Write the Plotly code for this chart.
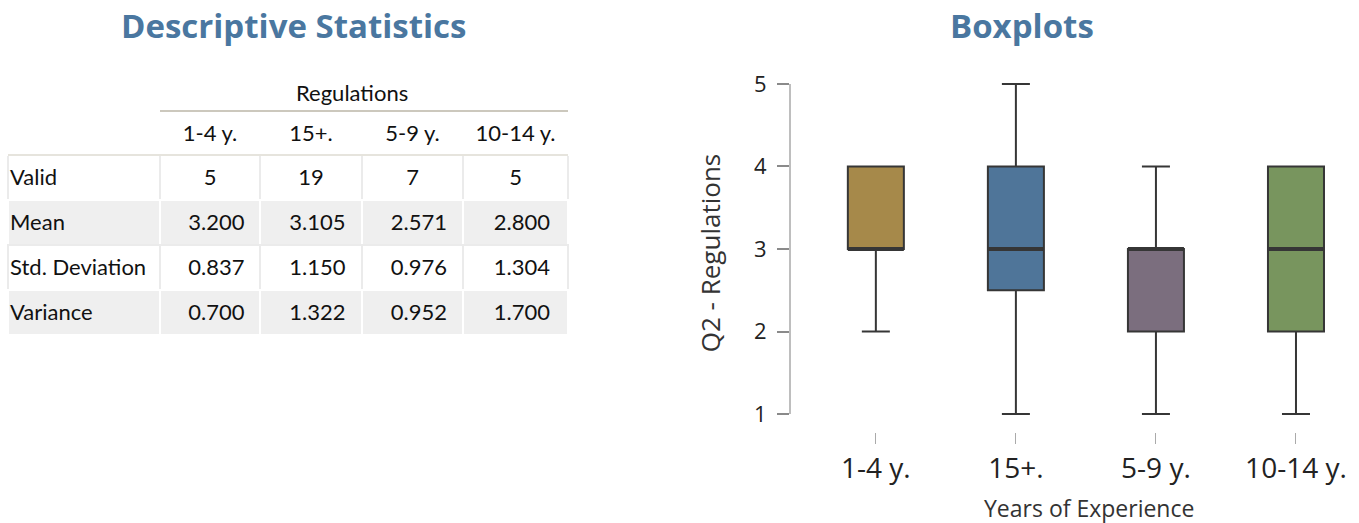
import plotly.graph_objects as go

# ---- data -------------------------------------------------------------
categories = ["1-4 y.", "15+.", "5-9 y.", "10-14 y."]
stat_labels = ["Valid", "Mean", "Std. Deviation", "Variance"]
valid_n = [5, 19, 7, 5]
means = [3.200, 3.105, 2.571, 2.800]
std_devs = [0.837, 1.150, 0.976, 1.304]
variances = [0.700, 1.322, 0.952, 1.700]

# box summaries per group (Q2 - Regulations)
q1_vals = [3, 2.5, 2, 2]
median_vals = [3, 3, 3, 3]
q3_vals = [4, 4, 3, 4]
lower_whiskers = [2, 1, 1, 1]
upper_whiskers = [4, 5, 4, 4]
box_colors = ["#A6894A", "#4F7599", "#7B6E7E", "#78955E"]
y_ticks = [1, 2, 3, 4, 5]

# ---- styling ----------------------------------------------------------
W, H = 1359, 523
TITLE_COLOR = "#4A77A0"
TABLE_FONT = "Lato"
AXIS_FONT = "Open Sans"
EDGE = "#363636"
BOX_WIDTH = 0.4
FIG_SPACE = "\u2007"


def px_x(p):
    return p / W


def px_y(p):
    return 1 - p / H


fig = go.Figure()

# ---- descriptive statistics table --------------------------------------
row_fill = ["white", "#EFEFEF", "white", "#EFEFEF"]
row_line = ["#EBEBEB", "white", "#EBEBEB", "white"]
columns = [stat_labels]
for i in range(len(categories)):
    columns.append([
        str(valid_n[i]),
        FIG_SPACE + f"{means[i]:.3f}",
        FIG_SPACE + f"{std_devs[i]:.3f}",
        FIG_SPACE + f"{variances[i]:.3f}",
    ])
n_cols = len(columns)
n_rows = len(stat_labels)

# cell backgrounds and separators
fig.add_trace(go.Table(
    domain=dict(x=[px_x(8), px_x(568)], y=[0, px_y(111)]),
    columnwidth=[152, 100, 102, 101, 105],
    header=dict(values=[""] * n_cols, fill_color="white",
                line=dict(color="white", width=2), height=44),
    cells=dict(values=[[""] * n_rows] * n_cols,
               fill_color=[row_fill] * n_cols,
               line=dict(color=[row_line] * n_cols, width=2),
               height=45),
))

# cell text, laid over the backgrounds
clear = "rgba(0,0,0,0)"
fig.add_trace(go.Table(
    domain=dict(x=[px_x(2), px_x(568)], y=[0, px_y(116.5)]),
    columnwidth=[158, 100, 102, 101, 105],
    header=dict(
        values=[""] + categories,
        align=["left"] + ["center"] * len(categories),
        fill_color=clear,
        line=dict(color=clear, width=0),
        font=dict(family=TABLE_FONT, size=22, color="#111111"),
        height=44,
    ),
    cells=dict(
        values=columns,
        align=["left"] + ["center"] * len(categories),
        fill_color=clear,
        line=dict(color=clear, width=0),
        font=dict(family=TABLE_FONT, size=22, color="#111111"),
        height=45,
    ),
))

# ---- boxplots ----------------------------------------------------------
for i, cat in enumerate(categories):
    fig.add_trace(go.Box(
        x=[i],
        q1=[q1_vals[i]],
        median=[median_vals[i]],
        q3=[q3_vals[i]],
        lowerfence=[lower_whiskers[i]],
        upperfence=[upper_whiskers[i]],
        width=BOX_WIDTH,
        whiskerwidth=0.5,
        fillcolor=box_colors[i],
        line=dict(color=EDGE, width=2),
        boxpoints=False,
        name=cat,
        showlegend=False,
        hoverinfo="skip",
    ))
    # heavier median bar
    fig.add_trace(go.Scatter(
        x=[i - BOX_WIDTH / 2, i + BOX_WIDTH / 2],
        y=[median_vals[i], median_vals[i]],
        mode="lines",
        line=dict(color=EDGE, width=4),
        showlegend=False,
        hoverinfo="skip",
    ))

fig.update_layout(
    width=W,
    height=H,
    margin=dict(l=0, r=0, t=0, b=0),
    paper_bgcolor="white",
    plot_bgcolor="white",
    xaxis=dict(
        domain=[px_x(790), 1.0],
        range=[-0.613, 3.45],
        automargin=False,
        tickvals=list(range(len(categories))),
        ticktext=categories,
        ticks="outside",
        ticklen=11,
        tickwidth=1,
        tickcolor="#AAAAAA",
        showline=False,
        showgrid=False,
        zeroline=False,
        tickfont=dict(family=AXIS_FONT, size=28, color="#222222"),
    ),
    yaxis=dict(
        domain=[px_y(432), px_y(74)],
        range=[0.782, 5.121],
        automargin=False,
        tickvals=y_ticks,
        ticks="outside",
        ticklen=12,
        tickwidth=1.5,
        tickcolor="#8A8A8A",
        ticklabelstandoff=6,
        showline=False,
        showgrid=False,
        zeroline=False,
        tickfont=dict(family=AXIS_FONT, size=22, color="#222222"),
        title=dict(text="Q2 - Regulations", standoff=25,
                   font=dict(family=AXIS_FONT, size=26, color="#333333")),
    ),
    shapes=[
        # y axis rule spanning the tick range
        dict(type="line", xref="x domain", yref="y", x0=0, x1=0,
             y0=y_ticks[0], y1=y_ticks[-1],
             line=dict(color="#A8A8A8", width=1.5)),
        # table header rules
        dict(type="line", xref="paper", yref="paper",
             x0=px_x(160), x1=px_x(568), y0=px_y(111), y1=px_y(111),
             line=dict(color="#CCC8BD", width=2)),
        dict(type="line", xref="paper", yref="paper",
             x0=px_x(8), x1=px_x(568), y0=px_y(155), y1=px_y(155),
             line=dict(color="#DEDBD2", width=1.5)),
    ],
    annotations=[
        dict(text="<b>Descriptive Statistics</b>", x=px_x(293), y=px_y(25),
             xref="paper", yref="paper", showarrow=False,
             xanchor="center", yanchor="middle",
             font=dict(family="Open Sans", size=33, color=TITLE_COLOR)),
        dict(text="<b>Boxplots</b>", x=px_x(1022), y=px_y(25),
             xref="paper", yref="paper", showarrow=False,
             xanchor="center", yanchor="middle",
             font=dict(family="Open Sans", size=33, color=TITLE_COLOR)),
        dict(text="Regulations", x=px_x(352), y=px_y(93),
             xref="paper", yref="paper", showarrow=False,
             xanchor="center", yanchor="middle",
             font=dict(family=TABLE_FONT, size=22, color="#111111")),
        dict(text="Years of Experience", x=px_x(1089), y=px_y(508),
             xref="paper", yref="paper", showarrow=False,
             xanchor="center", yanchor="middle",
             font=dict(family=AXIS_FONT, size=23, color="#333333")),
    ],
)

fig.write_html("out.html")
